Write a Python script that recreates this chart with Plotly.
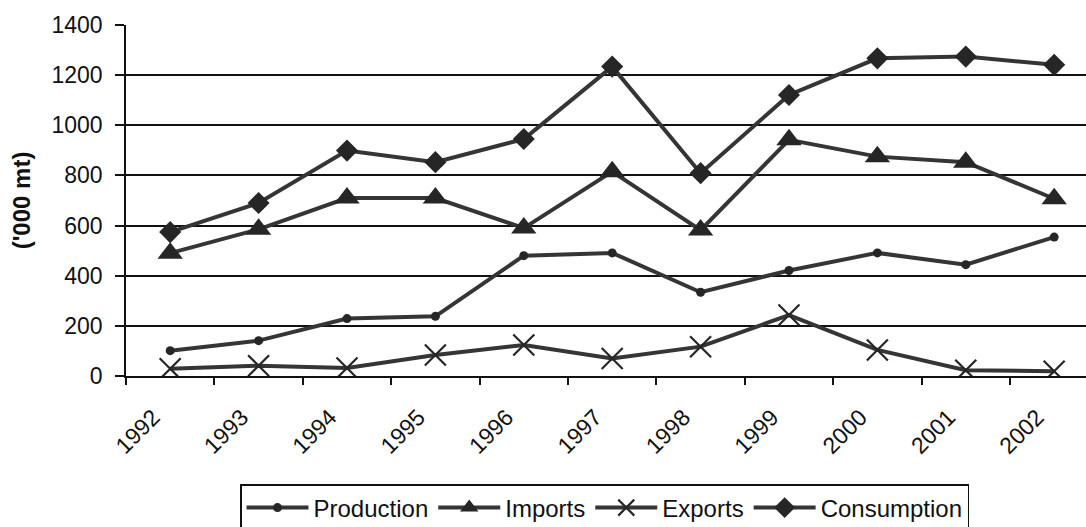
import plotly.graph_objects as go

years = ["1992", "1993", "1994", "1995", "1996", "1997", "1998", "1999", "2000", "2001", "2002"]
production = [101, 141, 229, 238, 480, 491, 334, 421, 491, 444, 554]
imports = [490, 585, 710, 710, 590, 815, 582, 942, 875, 853, 707]
exports = [29, 41, 32, 84, 124, 70, 117, 243, 104, 23, 19]
consumption = [574, 690, 899, 853, 945, 1234, 809, 1121, 1267, 1274, 1241]
y_ticks = [0, 200, 400, 600, 800, 1000, 1200, 1400]

LINE = "#353535"
MARK = "#262626"

fig = go.Figure()
fig.add_trace(go.Scatter(
    x=years, y=production, name="Production", mode="lines+markers",
    line=dict(color=LINE, width=4),
    marker=dict(symbol="circle", size=9, color=MARK),
))
fig.add_trace(go.Scatter(
    x=years, y=imports, name="Imports", mode="lines+markers",
    line=dict(color=LINE, width=4),
    marker=dict(symbol="triangle-up", size=22, color=MARK),
))
fig.add_trace(go.Scatter(
    x=years, y=exports, name="Exports", mode="lines+markers",
    line=dict(color=LINE, width=4),
    marker=dict(symbol="x-thin", size=21, color=MARK, line=dict(color=MARK, width=2.2)),
))
fig.add_trace(go.Scatter(
    x=years, y=consumption, name="Consumption", mode="lines+markers",
    line=dict(color=LINE, width=4),
    marker=dict(symbol="diamond", size=17, color=MARK),
))

fig.update_layout(
    width=1086, height=527,
    margin=dict(l=126, r=0, t=25, b=151, autoexpand=False),
    paper_bgcolor="white", plot_bgcolor="white",
    font=dict(family="Liberation Sans, Arial, sans-serif", color="#111"),
    showlegend=True,
    legend=dict(
        orientation="h",
        x=(240 - 126) / 960, xanchor="left",
        y=(376 - 484) / 351, yanchor="top",
        bordercolor="#111", borderwidth=1.5,
        font=dict(size=24, color="#111"),
        itemwidth=62,
        tracegroupgap=0,
        itemsizing="trace",
    ),
    xaxis=dict(
        type="category",
        range=[-0.5, 10.36],
        tickson="boundaries",
        ticks="outside", ticklen=7, tickwidth=1.5, tickcolor="#111",
        tickangle=-45,
        tickfont=dict(size=23, color="#111"),
        ticklabelstandoff=17,
        ticklabelshift=-17,
        showgrid=False,
        showline=True, linecolor="#111", linewidth=1.5,
        zeroline=False,
    ),
    yaxis=dict(
        range=[0, 1400],
        tickvals=y_ticks,
        ticktext=[str(v) for v in y_ticks],
        ticks="outside", ticklen=9, tickwidth=1.5, tickcolor="#111",
        tickfont=dict(size=23, color="#111"),
        ticklabelstandoff=8,
        showgrid=True, gridcolor="#111", gridwidth=1.8,
        showline=True, linecolor="#111", linewidth=1.5,
        zeroline=False,
        title=dict(text="<b>('000 mt)</b>", font=dict(size=24, color="#111"), standoff=14),
    ),
)

fig.write_html("out.html")
